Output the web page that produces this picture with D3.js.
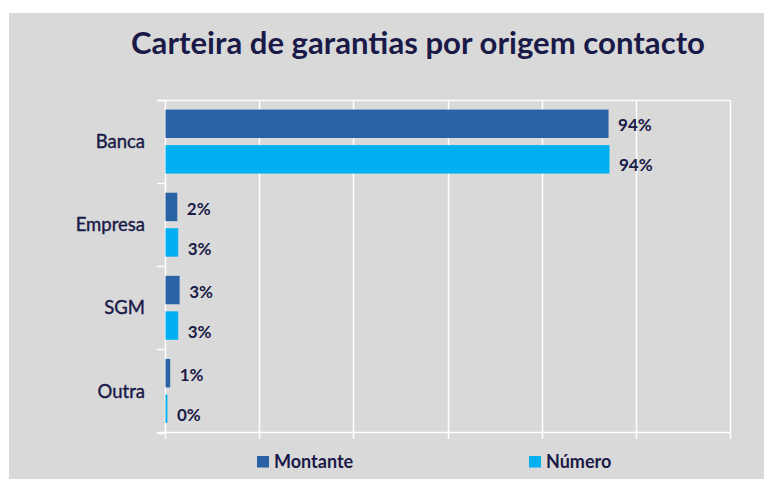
<!DOCTYPE html>
<html>
<head>
<meta charset="utf-8">
<script src="https://cdn.jsdelivr.net/npm/d3@7"></script>
<style>
  body { margin: 0; background: #fff; }
  svg { display: block; }
  text { font-family: Lato, "Open Sans", sans-serif; fill: #1a1a48; }
</style>
</head>
<body>
<svg id="chart"></svg>
<script>
// data
const categories = ["Banca", "Empresa", "SGM", "Outra"];
const seriesNames = ["Montante", "Número"];
const montante = [0.941, 0.025, 0.030, 0.010];
const numero = [0.943, 0.027, 0.027, 0.004];
const montanteLabels = ["94%", "2%", "3%", "1%"];
const numeroLabels = ["94%", "3%", "3%", "0%"];
const colors = ["#2962a5", "#00b0f0"];
const xTicks = [0, 0.2, 0.4, 0.6, 0.8, 1.0, 1.2];

const width = 764, height = 479;
const margin = { top: 100, right: 34, bottom: 47, left: 165 };

const svg = d3.select("#chart")
    .attr("width", width)
    .attr("height", height);

// gray chart area
svg.append("rect")
    .attr("x", 9).attr("y", 13)
    .attr("width", width - 9).attr("height", height - 13)
    .attr("fill", "#d9d9d9");

svg.append("text")
    .attr("x", 418)
    .attr("y", 54)
    .attr("text-anchor", "middle")
    .attr("font-size", "30px")
    .attr("font-weight", "bold")
    .attr("fill", "#131342")
    .attr("textLength", 574)
    .attr("lengthAdjust", "spacingAndGlyphs")
    .text("Carteira de garantias por origem contacto");

const x = d3.scaleLinear().domain([0, 1.2]).range([margin.left, width - margin.right]);
const y = d3.scaleBand().domain(categories).range([margin.top, height - margin.bottom + 0.5]);
const ySub = d3.scaleBand().domain(seriesNames).range([0, y.bandwidth()])
    .paddingInner(0.2).paddingOuter(0.27);

const g = svg.append("g");

// gridlines (white), extend a little below the axis as ticks
g.selectAll(".grid")
    .data(xTicks)
    .enter().append("line")
    .attr("x1", d => Math.round(x(d)) + 0.5)
    .attr("x2", d => Math.round(x(d)) + 0.5)
    .attr("y1", margin.top)
    .attr("y2", height - margin.bottom + 7)
    .attr("stroke", "#ffffff")
    .attr("stroke-width", 1.5);

// top border and bottom axis line
[margin.top, height - margin.bottom].forEach(yy => {
    g.append("line")
        .attr("x1", margin.left - 8).attr("x2", x(1.2) + 0.5)
        .attr("y1", yy + 0.5).attr("y2", yy + 0.5)
        .attr("stroke", "#ffffff").attr("stroke-width", 1.5);
});

// category ticks on the left
const bounds = categories.map(c => y(c)).concat([y.range()[1]]);
g.selectAll(".ytick")
    .data(bounds)
    .enter().append("line")
    .attr("x1", margin.left - 8).attr("x2", margin.left)
    .attr("y1", d => Math.round(d) + 0.5).attr("y2", d => Math.round(d) + 0.5)
    .attr("stroke", "#ffffff").attr("stroke-width", 1.5);

const rows = categories.map((c, i) => ({
    cat: c,
    vals: [
        { s: seriesNames[0], v: montante[i], label: montanteLabels[i] },
        { s: seriesNames[1], v: numero[i], label: numeroLabels[i] }
    ]
}));

const grp = g.selectAll(".cat")
    .data(rows)
    .enter().append("g")
    .attr("transform", d => `translate(0,${y(d.cat)})`);

grp.selectAll("rect")
    .data(d => d.vals)
    .enter().append("rect")
    .attr("x", x(0) + 0.5)
    .attr("y", d => ySub(d.s))
    .attr("width", d => x(d.v) - x(0))
    .attr("height", ySub.bandwidth())
    .attr("fill", (d, i) => colors[i]);

// excel puts the second series' labels a bit lower
grp.selectAll(".lbl")
    .data(d => d.vals)
    .enter().append("text")
    .attr("x", d => x(d.v) + 10)
    .attr("y", (d, i) => ySub(d.s) + ySub.bandwidth() / 2 + (i ? 6 : 1.5))
    .attr("dy", "0.36em")
    .attr("font-size", "17px")
    .attr("font-weight", "bold")
    .text(d => d.label);

// category labels
g.selectAll(".cl")
    .data(categories)
    .enter().append("text")
    .attr("x", 145)
    .attr("y", d => y(d) + y.bandwidth() / 2)
    .attr("dy", "0.36em")
    .attr("text-anchor", "end")
    .attr("font-size", "18.5px")
    .attr("stroke", "#1a1a48")
    .attr("stroke-width", 0.4)
    .text(d => d);

// legend
const legendX = [257, 529];
const leg = svg.selectAll(".leg")
    .data(seriesNames)
    .enter().append("g")
    .attr("transform", (d, i) => `translate(${legendX[i]},456)`);
leg.append("rect")
    .attr("width", 12).attr("height", 11.5)
    .attr("fill", (d, i) => colors[i]);
leg.append("text")
    .attr("x", 17)
    .attr("y", 6)
    .attr("dy", "0.36em")
    .attr("font-size", "18px")
    .attr("font-weight", "bold")
    .text(d => d);
</script>
</body>
</html>
